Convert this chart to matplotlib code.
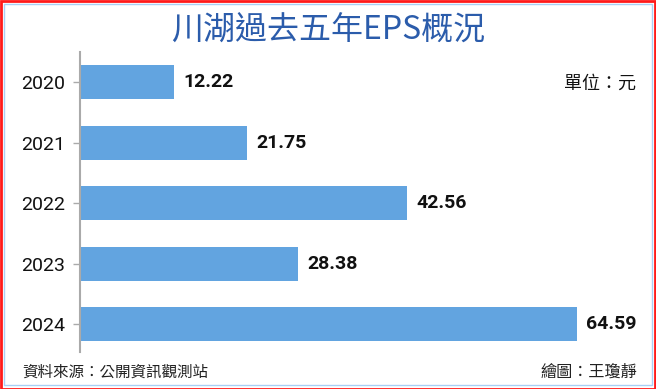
import matplotlib
matplotlib.use("Agg")
import matplotlib.pyplot as plt
from matplotlib.patches import Rectangle

years = ["2020", "2021", "2022", "2023", "2024"]
eps = [12.22, 21.75, 42.56, 28.38, 64.59]
value_labels = ["12.22", "21.75", "42.56", "28.38", "64.59"]

title = "川湖過去五年EPS概況"
unit_text = "單位：元"
source_text = "資料來源：公開資訊觀測站"
credit_text = "繪圖：王瓊靜"

W, H = 656, 389
fig = plt.figure(figsize=(W / 100, H / 100), dpi=100)
fig.patch.set_facecolor("white")

# borders
fig.add_artist(Rectangle((0.5 / W, 0.5 / H), 1 - 1.5 / W, 1 - 1.5 / H, transform=fig.transFigure,
                         fill=False, edgecolor="#ff1a1a", linewidth=2.0))
fig.add_artist(Rectangle((4 / W, 4 / H), 1 - 8 / W, 1 - 8 / H, transform=fig.transFigure,
                         fill=False, edgecolor="#a9d0f5", linewidth=1.0))

left_px, right_px = 80, 80 + 70 * 7.695
top_px, bot_px = 52, 352
ax = fig.add_axes([left_px / W, 1 - bot_px / H, (right_px - left_px) / W, (bot_px - top_px) / H])

pos = list(range(len(years)))
ax.barh(pos, eps, height=0.56, color="#62a4e0", edgecolor="none")
ax.set_xlim(0, 70)
ax.set_ylim(4.46, -0.5)

for p, v, lab in zip(pos, eps, value_labels):
    ax.text(v + 1.2, p, lab, va="center", ha="left", fontsize=14, fontweight="bold",
            family=["Roboto", "DejaVu Sans"], color="#111111")

ax.set_yticks(pos)
ax.set_yticklabels(years, fontsize=14, family=["Roboto", "DejaVu Sans"], color="#111111")
ax.tick_params(axis="y", length=5, width=1, color="#aaaaaa", pad=6)
ax.set_xticks([])
for s in ["top", "right", "bottom"]:
    ax.spines[s].set_visible(False)
ax.spines["left"].set_color("#aaaaaa")
ax.spines["left"].set_linewidth(1.5)

cjk = ["Noto Sans CJK TC", "DejaVu Sans"]
fig.text(328 / W, 1 - 31 / H, title, ha="center", va="center", fontsize=23,
         color="#2b5cab", family=cjk)
fig.text(636 / W, 1 - 84 / H, unit_text, ha="right", va="center", fontsize=13,
         color="#111111", family=cjk)
fig.text(22 / W, 1 - 372 / H, source_text, ha="left", va="center", fontsize=11.2,
         color="#222222", family=cjk)
fig.text(637 / W, 1 - 372 / H, credit_text, ha="right", va="center", fontsize=11.6,
         color="#222222", family=cjk)

fig.savefig("out.png", dpi=100)
